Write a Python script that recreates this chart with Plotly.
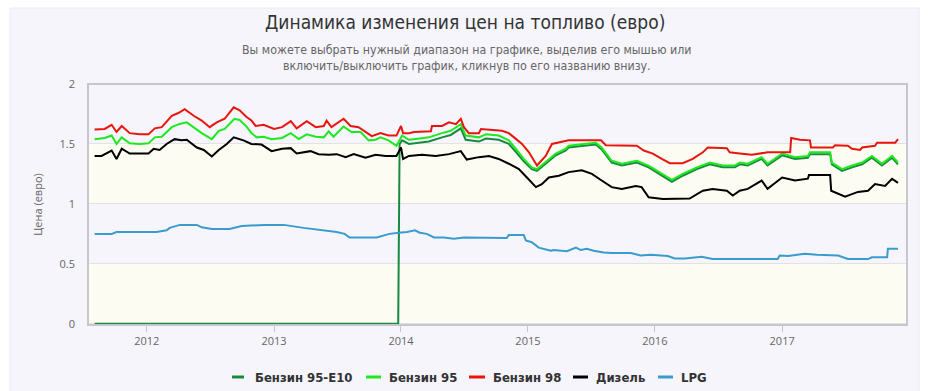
import plotly.graph_objects as go

# ---------------- data ----------------
e10_dates = ["2011-08-04", "2013-12-24", "2013-12-28", "2014-01-04", "2014-01-24", "2014-02-07", "2014-03-22",
             "2014-04-29", "2014-05-24", "2014-06-22", "2014-07-06", "2014-08-13", "2014-09-02", "2014-10-09",
             "2014-11-07", "2014-11-27", "2014-12-20", "2015-01-12", "2015-01-27", "2015-02-21", "2015-03-22",
             "2015-04-20", "2015-04-28", "2015-06-11", "2015-07-15", "2015-08-01", "2015-08-30", "2015-09-28",
             "2015-11-10", "2015-12-14", "2016-01-21", "2016-02-19", "2016-03-21", "2016-05-01", "2016-06-07",
             "2016-07-14", "2016-08-18", "2016-09-01", "2016-09-24", "2016-11-03", "2016-11-20", "2017-01-01",
             "2017-02-07", "2017-03-16", "2017-03-22", "2017-05-19", "2017-05-24", "2017-06-22", "2017-07-21",
             "2017-08-19", "2017-09-16", "2017-10-15", "2017-11-13", "2017-11-30"]
e10_values = [0, 0, 1.50, 1.53, 1.50, 1.505, 1.52,
              1.555, 1.575, 1.63, 1.535, 1.52, 1.545, 1.535,
              1.50, 1.435, 1.355, 1.29, 1.275, 1.335, 1.405,
              1.445, 1.47, 1.485, 1.495, 1.455, 1.345, 1.32,
              1.345, 1.305, 1.235, 1.185, 1.235, 1.29, 1.33,
              1.305, 1.305, 1.33, 1.32, 1.375, 1.32, 1.405,
              1.375, 1.385, 1.415, 1.415, 1.33, 1.275, 1.305,
              1.33, 1.385, 1.32, 1.385, 1.33]

b95_dates = ["2011-08-04", "2011-09-02", "2011-09-22", "2011-10-06", "2011-10-21", "2011-11-13", "2011-12-11",
             "2012-01-06", "2012-01-24", "2012-02-13", "2012-03-13", "2012-04-02", "2012-04-25", "2012-05-15",
             "2012-06-07", "2012-07-06", "2012-07-26", "2012-08-12", "2012-09-09", "2012-09-24", "2012-10-14",
             "2012-10-28", "2012-11-12", "2012-12-02", "2012-12-25", "2013-01-24", "2013-02-18", "2013-03-13",
             "2013-04-05", "2013-05-01", "2013-05-24", "2013-06-07", "2013-06-21", "2013-07-20", "2013-08-12",
             "2013-09-07", "2013-09-30", "2013-10-20", "2013-11-03", "2013-11-26", "2013-12-19", "2014-01-04",
             "2014-01-24", "2014-02-07", "2014-03-22", "2014-04-29", "2014-05-24", "2014-06-22", "2014-07-06",
             "2014-08-13", "2014-09-02", "2014-10-09", "2014-11-07", "2014-11-27", "2014-12-20", "2015-01-12",
             "2015-01-27", "2015-02-21", "2015-03-22", "2015-04-20", "2015-04-28", "2015-06-11", "2015-07-15",
             "2015-08-01", "2015-08-30", "2015-09-28", "2015-11-10", "2015-12-14", "2016-01-21", "2016-02-19",
             "2016-03-21", "2016-05-01", "2016-06-07", "2016-07-14", "2016-08-18", "2016-09-01", "2016-09-24",
             "2016-11-03", "2016-11-20", "2017-01-01", "2017-02-07", "2017-03-16", "2017-03-22", "2017-05-19",
             "2017-05-24", "2017-06-22", "2017-07-21", "2017-08-19", "2017-09-16", "2017-10-15", "2017-11-13",
             "2017-11-30"]
b95_values = [1.54, 1.55, 1.57, 1.50, 1.555, 1.505, 1.50,
              1.505, 1.555, 1.56, 1.64, 1.665, 1.68, 1.64,
              1.59, 1.54, 1.61, 1.625, 1.71, 1.70, 1.645,
              1.59, 1.555, 1.56, 1.54, 1.55, 1.59, 1.54,
              1.58, 1.56, 1.555, 1.605, 1.56, 1.645, 1.60,
              1.60, 1.53, 1.535, 1.555, 1.53, 1.485, 1.57,
              1.535, 1.54, 1.555, 1.59, 1.61, 1.665, 1.57,
              1.555, 1.58, 1.57, 1.53, 1.46, 1.375, 1.305,
              1.29, 1.35, 1.42, 1.46, 1.485, 1.50, 1.51,
              1.47, 1.36, 1.335, 1.36, 1.32, 1.25, 1.20,
              1.25, 1.305, 1.345, 1.32, 1.32, 1.345, 1.335,
              1.39, 1.335, 1.42, 1.39, 1.40, 1.43, 1.43,
              1.345, 1.29, 1.32, 1.345, 1.40, 1.335, 1.40,
              1.345]

b98_dates = ["2011-08-04", "2011-09-02", "2011-09-22", "2011-10-06", "2011-10-21", "2011-11-13", "2011-12-11",
             "2012-01-06", "2012-01-24", "2012-02-13", "2012-03-13", "2012-04-02", "2012-04-19", "2012-05-15",
             "2012-06-07", "2012-06-30", "2012-07-20", "2012-08-12", "2012-09-07", "2012-09-24", "2012-10-14",
             "2012-10-28", "2012-11-09", "2012-12-02", "2013-01-01", "2013-01-24", "2013-02-18", "2013-03-07",
             "2013-04-05", "2013-05-01", "2013-05-24", "2013-06-01", "2013-06-15", "2013-07-20", "2013-08-09",
             "2013-09-01", "2013-10-09", "2013-11-03", "2013-11-26", "2013-12-19", "2014-01-01", "2014-01-07",
             "2014-01-24", "2014-02-07", "2014-03-28", "2014-03-31", "2014-04-29", "2014-05-19", "2014-06-08",
             "2014-06-22", "2014-07-01", "2014-07-15", "2014-08-13", "2014-08-19", "2014-10-18", "2014-11-07",
             "2014-11-22", "2014-12-15", "2015-01-04", "2015-01-27", "2015-02-21", "2015-03-11", "2015-04-28",
             "2015-07-30", "2015-08-13", "2015-11-10", "2015-11-30", "2015-12-26", "2016-01-21", "2016-02-13",
             "2016-03-21", "2016-04-19", "2016-05-18", "2016-06-01", "2016-07-26", "2016-08-03", "2016-09-01",
             "2016-10-06", "2016-11-20", "2017-01-24", "2017-01-27", "2017-02-21", "2017-03-22", "2017-03-25",
             "2017-05-27", "2017-06-02", "2017-07-09", "2017-07-21", "2017-08-13", "2017-08-19", "2017-09-25",
             "2017-10-01", "2017-11-22", "2017-11-30"]
b98_values = [1.62, 1.625, 1.66, 1.60, 1.65, 1.59, 1.58,
              1.58, 1.63, 1.64, 1.735, 1.76, 1.79, 1.735,
              1.695, 1.64, 1.68, 1.71, 1.805, 1.78, 1.725,
              1.695, 1.65, 1.66, 1.625, 1.64, 1.69, 1.63,
              1.69, 1.64, 1.65, 1.695, 1.64, 1.71, 1.65,
              1.64, 1.565, 1.59, 1.57, 1.57, 1.65, 1.59,
              1.59, 1.60, 1.605, 1.65, 1.65, 1.68, 1.665,
              1.71, 1.64, 1.59, 1.59, 1.625, 1.61, 1.59,
              1.555, 1.50, 1.43, 1.32, 1.40, 1.50, 1.53,
              1.53, 1.49, 1.485, 1.445, 1.42, 1.375, 1.34,
              1.34, 1.375, 1.43, 1.47, 1.465, 1.43, 1.42,
              1.41, 1.43, 1.43, 1.55, 1.535, 1.53, 1.47,
              1.47, 1.49, 1.485, 1.46, 1.45, 1.47, 1.485,
              1.51, 1.51, 1.54]

diesel_dates = ["2011-08-04", "2011-08-24", "2011-09-22", "2011-10-06", "2011-10-21", "2011-11-13", "2011-12-23",
                "2012-01-06", "2012-01-21", "2012-02-07", "2012-02-27", "2012-03-21", "2012-04-10", "2012-04-25",
                "2012-05-24", "2012-06-13", "2012-07-06", "2012-07-26", "2012-08-18", "2012-09-07", "2012-10-05",
                "2012-10-28", "2012-11-26", "2012-12-25", "2013-01-24", "2013-02-18", "2013-03-07", "2013-04-16",
                "2013-05-09", "2013-06-07", "2013-06-30", "2013-07-26", "2013-08-18", "2013-09-21", "2013-10-20",
                "2013-11-18", "2013-12-19", "2014-01-01", "2014-01-07", "2014-01-24", "2014-03-02", "2014-04-11",
                "2014-05-19", "2014-06-22", "2014-07-09", "2014-08-13", "2014-09-11", "2014-10-09", "2014-11-07",
                "2014-12-06", "2014-12-29", "2015-01-24", "2015-02-10", "2015-03-02", "2015-03-31", "2015-04-28",
                "2015-06-05", "2015-07-04", "2015-08-01", "2015-08-30", "2015-09-28", "2015-11-07", "2015-11-24",
                "2015-12-14", "2016-01-24", "2016-03-04", "2016-04-10", "2016-05-18", "2016-06-15", "2016-07-26",
                "2016-08-12", "2016-09-01", "2016-09-24", "2016-11-03", "2016-11-20", "2017-01-01", "2017-02-07",
                "2017-03-16", "2017-03-19", "2017-05-19", "2017-05-22", "2017-07-01", "2017-08-07", "2017-09-05",
                "2017-09-25", "2017-10-24", "2017-11-13", "2017-11-30"]
diesel_values = [1.40, 1.40, 1.445, 1.375, 1.46, 1.42, 1.42,
                 1.42, 1.46, 1.45, 1.50, 1.54, 1.53, 1.535,
                 1.47, 1.45, 1.395, 1.45, 1.50, 1.555, 1.53,
                 1.50, 1.495, 1.44, 1.46, 1.465, 1.42, 1.44,
                 1.415, 1.41, 1.415, 1.39, 1.415, 1.385, 1.41,
                 1.40, 1.40, 1.47, 1.375, 1.40, 1.41, 1.40,
                 1.415, 1.44, 1.37, 1.39, 1.40, 1.375, 1.335,
                 1.29, 1.22, 1.14, 1.165, 1.22, 1.235, 1.265,
                 1.28, 1.25, 1.195, 1.14, 1.125, 1.15, 1.14,
                 1.055, 1.04, 1.04, 1.045, 1.11, 1.125, 1.11,
                 1.07, 1.11, 1.125, 1.195, 1.125, 1.22, 1.195,
                 1.21, 1.24, 1.24, 1.11, 1.06, 1.10, 1.11,
                 1.165, 1.15, 1.21, 1.175]

lpg_dates = ["2011-08-04", "2011-09-22", "2011-10-06", "2012-01-29", "2012-02-27", "2012-03-07", "2012-04-05",
             "2012-05-24", "2012-06-07", "2012-07-06", "2012-08-26", "2012-09-30", "2012-12-02", "2013-01-29",
             "2013-03-27", "2013-05-12", "2013-06-30", "2013-07-23", "2013-08-06", "2013-10-23", "2013-11-29",
             "2013-12-25", "2014-01-18", "2014-02-10", "2014-02-24", "2014-03-16", "2014-04-06", "2014-05-04",
             "2014-06-02", "2014-07-01", "2014-09-05", "2014-11-01", "2014-11-07", "2014-12-20", "2014-12-26",
             "2015-01-12", "2015-02-01", "2015-03-08", "2015-03-16", "2015-04-23", "2015-05-19", "2015-06-02",
             "2015-06-19", "2015-07-09", "2015-08-07", "2015-08-30", "2015-10-24", "2015-11-21", "2015-12-20",
             "2016-02-07", "2016-02-27", "2016-03-27", "2016-05-15", "2016-06-15", "2016-12-19", "2016-12-25",
             "2017-01-18", "2017-03-07", "2017-04-11", "2017-06-11", "2017-07-09", "2017-09-05", "2017-09-16",
             "2017-10-30", "2017-11-01", "2017-11-30"]
lpg_values = [0.75, 0.75, 0.765, 0.765, 0.78, 0.80, 0.825,
              0.825, 0.805, 0.79, 0.79, 0.815, 0.825, 0.825,
              0.80, 0.785, 0.765, 0.75, 0.72, 0.72, 0.75,
              0.76, 0.765, 0.78, 0.76, 0.75, 0.72, 0.72,
              0.71, 0.72, 0.715, 0.715, 0.74, 0.74, 0.695,
              0.68, 0.635, 0.61, 0.615, 0.605, 0.635, 0.615,
              0.625, 0.61, 0.595, 0.59, 0.59, 0.57, 0.575,
              0.565, 0.545, 0.545, 0.56, 0.54, 0.54, 0.57,
              0.565, 0.585, 0.575, 0.57, 0.54, 0.54, 0.555,
              0.555, 0.625, 0.625]

series_names = ["Бензин 95-E10", "Бензин 95", "Бензин 98", "Дизель", "LPG"]
series_colors = ["#178a3f", "#1ee81e", "#e8150f", "#000000", "#3a9bcd"]

y_ticks = [0, 0.5, 1, 1.5, 2]
y_tick_text = ["0", "0.5", "1", "1.5", "2"]
x_ticks = ["2012-01-01", "2013-01-01", "2014-01-01", "2015-01-01", "2016-01-01", "2017-01-01"]
x_tick_text = ["2012", "2013", "2014", "2015", "2016", "2017"]

title_text = "Динамика изменения цен на топливо (евро)"
subtitle_text = ("Вы можете выбрать нужный диапазон на графике, выделив его мышью или<br>"
                 "включить/выключить график, кликнув по его названию внизу.")
y_title = "Цена (евро)"

# ---------------- figure ----------------
FONT = "DejaVu Sans Condensed, Liberation Sans Narrow, Open Sans, sans-serif"
AXFONT = "Open Sans, DejaVu Sans, sans-serif"
PW, PH, L, T = 819.0, 241.0, 88.0, 84.0


def px_x(px):
    return (px - L) / PW


def px_y(py):
    return (T + PH - py) / PH


fig = go.Figure()
all_series = [(e10_dates, e10_values), (b95_dates, b95_values), (b98_dates, b98_values),
              (diesel_dates, diesel_values), (lpg_dates, lpg_values)]
for (xs, ys), name, col in zip(all_series, series_names, series_colors):
    fig.add_trace(go.Scatter(x=xs, y=ys, name=name, mode="lines",
                             line=dict(color=col, width=2), showlegend=False))

shapes = []
# outer card
shapes.append(dict(type="rect", xref="paper", yref="paper", x0=px_x(10), x1=px_x(919), y0=px_y(400), y1=px_y(8),
                   fillcolor="#f5f5fb", line=dict(color="#e9e9f2", width=1), layer="below"))
# alternating plot bands
for lo, hi in [(0, 0.5), (1, 1.5)]:
    shapes.append(dict(type="rect", xref="paper", yref="y", x0=0, x1=1, y0=lo, y1=hi,
                       fillcolor="#fcfcf3", line=dict(width=0), layer="below"))
# plot frame
shapes.append(dict(type="rect", xref="paper", yref="paper", x0=0, x1=1, y0=0, y1=1,
                   line=dict(color="#c6c6cf", width=2), layer="above"))

annotations = [
    dict(text=title_text, xref="paper", yref="paper", x=px_x(465), y=px_y(22), xanchor="center", yanchor="middle",
         showarrow=False, font=dict(family=FONT, size=19, color="#333333")),
    dict(text=subtitle_text, xref="paper", yref="paper", x=px_x(467), y=px_y(58), xanchor="center",
         yanchor="middle", showarrow=False, font=dict(family=FONT, size=12.3, color="#666666")),
]

# legend (line keys + bold labels)
legend_line_x = [(232, 244), (366, 381), (469, 485), (573, 588), (658, 673)]
legend_text_x = [253, 387, 491, 594, 679]
LEG_Y = 377
for (a, b), tx, name, col in zip(legend_line_x, legend_text_x, series_names, series_colors):
    shapes.append(dict(type="line", xref="paper", yref="paper", x0=px_x(a), x1=px_x(b),
                       y0=px_y(LEG_Y), y1=px_y(LEG_Y), line=dict(color=col, width=3)))
    annotations.append(dict(text="<b>" + name + "</b>", xref="paper", yref="paper", x=px_x(tx), y=px_y(LEG_Y),
                            xanchor="left", yanchor="middle", showarrow=False,
                            font=dict(family=FONT, size=13, color="#333333")))

fig.update_layout(
    width=929, height=391,
    margin=dict(l=88, r=22, t=84, b=66, autoexpand=False),
    paper_bgcolor="#ffffff", plot_bgcolor="#ffffff",
    font=dict(family=AXFONT, size=11, color="#666666"),
    shapes=shapes,
    annotations=annotations,
    showlegend=False,
    xaxis=dict(type="date", range=["2011-07-16", "2017-12-26"], tickvals=x_ticks, ticktext=x_tick_text,
               showgrid=False, ticks="outside", ticklen=6, tickcolor="#c6c6cf", showline=False,
               tickfont=dict(size=11, color="#666666"), zeroline=False, fixedrange=True, automargin=False),
    yaxis=dict(range=[-0.01, 2.0], tickvals=y_ticks, ticktext=y_tick_text, showgrid=True, gridcolor="#e2e2e2",
               gridwidth=1, zeroline=False, showline=False, ticks="", ticklabelstandoff=12,
               tickfont=dict(size=11, color="#666666"), automargin=False,
               title=dict(text=y_title, font=dict(size=11, color="#666666"), standoff=14), fixedrange=True),
)

fig.write_html("out.html", config={"displayModeBar": False},
               post_script="document.body.style.margin='0';document.body.style.padding='0';")
